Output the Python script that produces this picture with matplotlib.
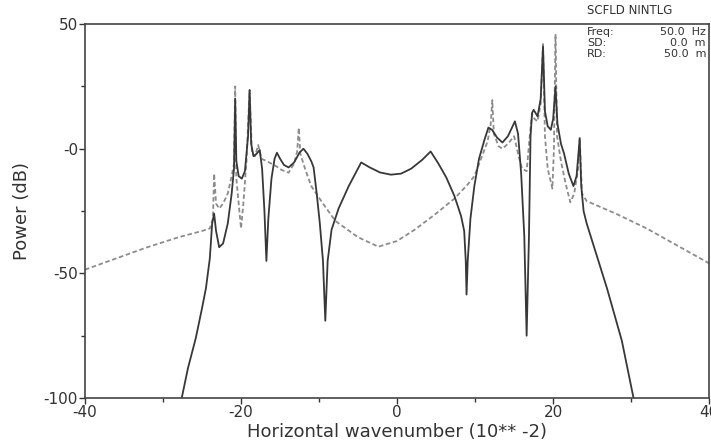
import matplotlib
matplotlib.use("Agg")
import matplotlib.pyplot as plt
from matplotlib.ticker import MultipleLocator, FuncFormatter

# wavenumber (10**-2) and power (dB)
solid_k = [-27.6, -26.8, -25.8, -25.0, -24.5, -24.0, -23.7, -23.45, -23.2, -22.8,
           -22.3, -21.7, -21.2, -20.9, -20.75, -20.6, -20.3, -19.9, -19.5, -19.1,
           -18.9, -18.7, -18.4, -18.0, -17.6, -17.3, -17.0, -16.75, -16.5, -16.1,
           -15.7, -15.4, -15.0, -14.5, -13.9, -13.2, -12.5, -12.0, -11.5, -11.0,
           -10.7, -10.3, -9.9, -9.5, -9.2, -8.9, -8.4, -7.5, -6.2, -4.6,
           -3.5, -2.2, -0.8, 0.5, 1.8, 3.2, 4.3, 5.3, 6.3, 7.35,
           8.2, 8.6, 8.8, 8.9, 9.05, 9.4, 9.9, 10.5, 11.2, 11.7,
           12.2, 12.8, 13.5, 14.2, 14.8, 15.1, 15.5, 15.9, 16.3, 16.6,
           16.9, 17.1, 17.3, 17.5, 18.0, 18.4, 18.7, 18.95, 19.3, 19.7,
           20.0, 20.3, 20.55, 21.0, 21.4, 22.0, 22.6, 23.0, 23.4, 23.6,
           23.9, 24.3, 25.5, 26.9, 28.8, 30.3]
solid_db = [-100, -88, -76, -64, -56, -44, -30, -26, -33, -39.5,
            -38, -30, -18, -8, 20, -5, -11, -12, -9, 5,
            23.5, 2, -3, -2, -0.5, -8, -25, -45, -28, -12,
            -4, -1.6, -4, -6.5, -7.5, -5.5, -1.5, 0, -2, -5,
            -7.5, -18, -30, -45, -69, -45, -32.5, -24, -15, -5.5,
            -7.5, -9.5, -10.4, -10, -8, -4.5, -1.1, -6, -11.5, -19,
            -27, -33, -45, -58.5, -45, -28, -15, -4, 3.6, 8.5,
            7.5, 4.5, 2.5, 5, 9, 11, 6, -10, -35, -75,
            -35, 5, 14.4, 15.6, 13, 20, 41, 15, 9, 7.6,
            12, 25, 10, 2, -2, -10, -15, -11, 4, -15,
            -25, -30, -42, -56, -77, -100]

dashed_k = [-40, -36, -32, -28, -25, -24.0, -23.6, -23.45, -23.2, -22.8,
            -22.3, -21.7, -21.2, -20.9, -20.75, -20.6, -20.3, -20.0, -19.7, -19.3,
            -18.9, -18.6, -18.2, -17.8, -17.4, -16.7, -15.5, -14.8, -13.9, -13.2,
            -12.8, -12.6, -12.4, -11.8, -11.0, -9.5, -7.9, -5.0, -2.4, 0,
            2.25, 5, 7.35, 9.0, 9.9, 10.7, 11.6, 12.0, 12.2, 12.4,
            13.0, 13.5, 14.2, 15.0, 15.5, 16.0, 16.6, 17.0, 17.3, 17.6,
            18.0, 18.4, 18.7, 18.95, 19.3, 19.9, 20.1, 20.3, 20.5, 21.0,
            21.6, 22.2, 22.7, 23.2, 23.4, 23.7, 24.3, 28, 32, 36,
            40]
dashed_db = [-48.5, -44, -39.5, -35.5, -33, -32, -28, -10, -22, -24,
             -22, -18, -11, -6, 25, -12, -22, -32, -22, -5,
             23.5, -2, -3, 1.5, -4, -5, -7, -8.5, -9.6, -6,
             -1, 8.4, -2, -8, -15, -22, -29, -35.5, -39.3, -37,
             -32.5, -26, -20, -14.5, -11, -4.5, 3, 10, 19.5, 6,
             1, 0, 2, 5, -2, -8, -9, 5, 14, 12,
             11, 18, 42, 5, -8, -16, 0, 46, 5, -5,
             -14, -21.5, -18, -8, 4.4, -18, -21, -26, -32, -39,
             -46]

text_color = "#333333"
plt.rcParams["font.family"] = "DejaVu Sans"

fig = plt.figure(figsize=(7.11, 4.42), dpi=100)
ax = fig.add_axes([0.1195, 0.0995, 0.878, 0.846])

ax.plot(dashed_k, dashed_db, color="#8c8c8c", lw=1.3, linestyle=(0, (2.5, 1.5)))
ax.plot(solid_k, solid_db, color="#383838", lw=1.3)

ax.set_xlim(-40, 40)
ax.set_ylim(-100, 50)
ax.xaxis.set_major_locator(MultipleLocator(20))
ax.xaxis.set_minor_locator(MultipleLocator(10))
ax.yaxis.set_major_locator(MultipleLocator(50))
ax.yaxis.set_minor_locator(MultipleLocator(25))
ax.yaxis.set_major_formatter(FuncFormatter(lambda v, p: "-0" if v == 0 else "%d" % v))
ax.xaxis.set_major_formatter(FuncFormatter(lambda v, p: "%d" % v))

ax.tick_params(which="major", direction="out", length=4, width=1, colors=text_color,
               labelsize=11, pad=1)
ax.tick_params(which="minor", direction="out", length=3, width=1, colors=text_color)
for s in ax.spines.values():
    s.set_color("#444444")
    s.set_linewidth(1.2)

ax.set_xlabel("Horizontal wavenumber (10** -2)", fontsize=13, color=text_color, labelpad=2)
ax.set_ylabel("Power (dB)", fontsize=13, color=text_color, labelpad=9)

# header box at top right
fig.text(587 / 711, 1 - 11 / 442, "SCFLD NINTLG", fontsize=8.5, color=text_color,
         va="center", ha="left")
rows = [("Freq:", "50.0  Hz"), ("SD:", "0.0  m"), ("RD:", "50.0  m")]
for i, (lab, val) in enumerate(rows):
    yy = 1 - (32 + 11 * i) / 442
    fig.text(587 / 711, yy, lab, fontsize=8, color=text_color, va="center", ha="left")
    fig.text(706 / 711, yy, val, fontsize=8, color=text_color, va="center", ha="right")

fig.savefig("out.png", dpi=100)
